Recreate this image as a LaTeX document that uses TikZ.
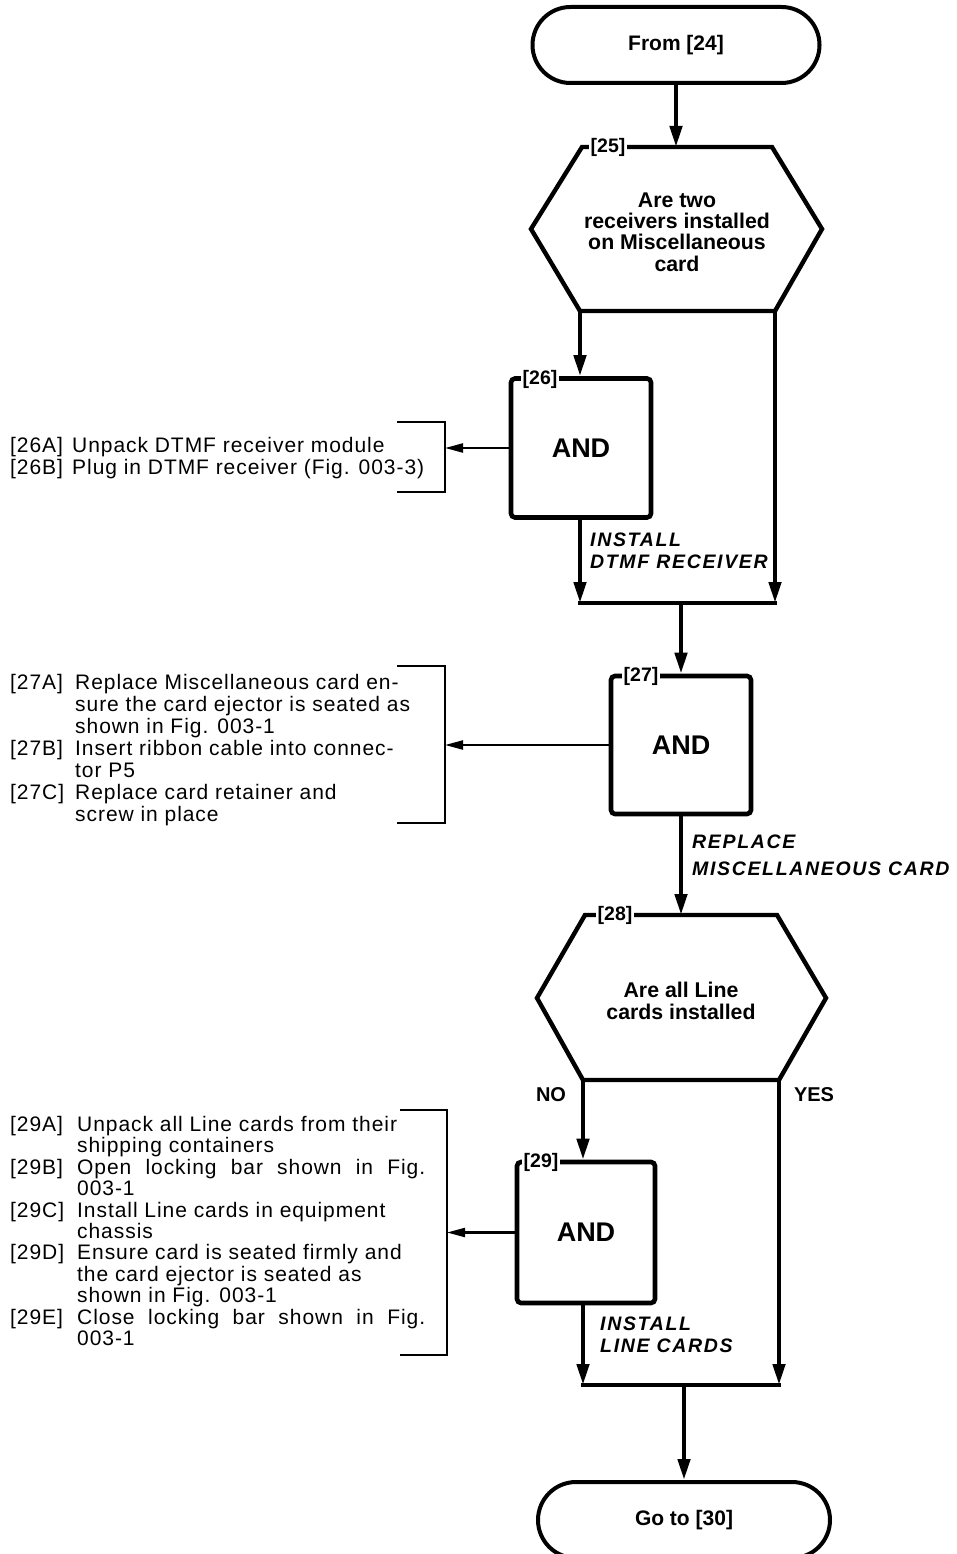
\documentclass[tikz,border=0pt]{standalone}
\usepackage{fontspec}
\setmainfont{Liberation Sans}
\newfontfamily\spacedfont[LetterSpace=4.5]{Liberation Sans}
\newfontfamily\capsfont[LetterSpace=8.5]{Liberation Sans}
\usetikzlibrary{arrows.meta,shapes.misc}
\begin{document}
\begin{tikzpicture}[x=1pt,y=-1pt,
  flow/.style={line width=4.4pt,line cap=rect},
  flowarrow/.style={line width=4.4pt,-{Triangle[length=21pt,width=12pt]}},
  thinarrow/.style={line width=2.2pt,-{Triangle[length=18pt,width=9pt]}},
  bracketline/.style={line width=2.6pt},
  hexline/.style={line width=4.4pt,line join=miter},
  terminal/.style={rounded rectangle,draw,line width=4pt,minimum width=287pt,minimum height=76pt,inner sep=0pt,font=\fontsize{21}{24}\selectfont\bfseries},
  andbox/.style={draw,line width=4.6pt,rounded corners=4pt,minimum width=140pt,minimum height=139pt,inner sep=0pt,font=\fontsize{27}{28}\selectfont\bfseries},
  hextext/.style={align=center,inner sep=0pt,font=\fontsize{21.3}{21.4}\selectfont\bfseries},
  steplabel/.style={fill=white,inner sep=1.5pt,font=\fontsize{19.5}{19.5}\selectfont\bfseries},
  listtext/.style={align=left,anchor=north west,inner sep=0pt},
  actlabel/.style={align=left,anchor=north west,inner sep=0pt},
  yesno/.style={inner sep=0pt,font=\fontsize{20}{20}\selectfont\bfseries}
]
\fill[white] (0,0) rectangle (956,1554);
\useasboundingbox (0,0) rectangle (956,1554);

% ---- top terminal
\node[terminal] (t24) at (676,45) {From [24]};

% ---- decision 25
\draw[hexline] (582,147) -- (772,147) -- (822,229) -- (775,311) -- (580,311) -- (531,229) -- cycle;
\coordinate (h25top) at (676,147);
\coordinate (h25bl) at (580,311);
\coordinate (h25br) at (775,311);
\node[steplabel] (l25) at (608,147) {[25]};
\node[hextext] (q25) at (677,232) {Are two\\receivers installed\\on Miscellaneous\\card};
\draw[flowarrow] (t24.south) -- (h25top);

% ---- AND 26
\node[andbox] (b26) at (581,448) {AND};
\node[steplabel] (l26) at (540,379) {[26]};
\draw[flowarrow] (h25bl) -- (h25bl |- b26.north);
\coordinate (k26) at (445,450);
\draw[bracketline] (397,422) -- (445,422) -- (445,492) -- (397,492);
\draw[thinarrow] (b26.west) -- (k26 |- b26.west);
\node[listtext,font=\spacedfont\fontsize{21}{22.3}\selectfont] (t26) at (10,437)
  {\makebox[62pt][l]{[26A]}Unpack DTMF receiver module\\
   \makebox[62pt][l]{[26B]}Plug in DTMF receiver (Fig. 003-3)};
\coordinate (j26l) at (580,603);
\coordinate (j26r) at (775,603);
\draw[flowarrow] (b26.south -| j26l) -- (j26l);
\draw[flowarrow] (h25br) -- (j26r);
\draw[flow] (j26l) -- (j26r);
\node[actlabel,font=\capsfont\fontsize{19.5}{21.7}\selectfont\bfseries\itshape] (a26) at (590,533)
  {INSTALL\\DTMF RECEIVER};

% ---- AND 27
\node[andbox,minimum height=138pt] (b27) at (681,745) {AND};
\node[steplabel] (l27) at (641,676) {[27]};
\draw[flowarrow] (b27.north |- j26l) -- (b27.north);
\coordinate (k27) at (445,749);
\draw[bracketline] (397,666) -- (445,666) -- (445,823) -- (397,823);
\draw[thinarrow] (b27.west) -- (k27 |- b27.west);
\node[listtext,font=\spacedfont\fontsize{21}{22}\selectfont] (t27) at (10,674)
  {\makebox[65pt][l]{[27A]}Replace Miscellaneous card en-\\
   \hspace*{65pt}sure the card ejector is seated as\\
   \hspace*{65pt}shown in Fig. 003-1\\
   \makebox[65pt][l]{[27B]}Insert ribbon cable into connec-\\
   \hspace*{65pt}tor P5\\
   \makebox[65pt][l]{[27C]}Replace card retainer and\\
   \hspace*{65pt}screw in place};
\node[actlabel,font=\capsfont\fontsize{19.5}{26.6}\selectfont\bfseries\itshape] (a27) at (692,834.8)
  {REPLACE\\MISCELLANEOUS CARD};

% ---- decision 28
\draw[hexline] (585,915) -- (777,915) -- (826,998) -- (779,1080) -- (583,1080) -- (537,998) -- cycle;
\coordinate (h28top) at (681,915);
\coordinate (h28bl) at (583,1080);
\coordinate (h28br) at (779,1080);
\node[steplabel] (l28) at (615,915) {[28]};
\node[hextext] (q28) at (681,1001) {Are all Line\\cards installed};
\draw[flowarrow] (b27.south) -- (h28top);
\node[yesno] (no28) at (551,1095) {NO};
\node[yesno] (yes28) at (814,1095) {YES};

% ---- AND 29
\node[andbox,minimum width=138pt,minimum height=141pt] (b29) at (586,1232.5) {AND};
\node[steplabel] (l29) at (541,1162) {[29]};
\draw[flowarrow] (h28bl) -- (h28bl |- b29.north);
\coordinate (k29) at (447,1236);
\draw[bracketline] (400,1110) -- (447,1110) -- (447,1355) -- (400,1355);
\draw[thinarrow] (b29.west) -- (k29 |- b29.west);
\node[listtext,font=\spacedfont\fontsize{21}{21.4}\selectfont] (t29) at (10,1116)
  {\makebox[67pt][l]{[29A]}Unpack all Line cards from their\\
   \hspace*{67pt}shipping containers\\
   \makebox[67pt][l]{[29B]}\makebox[348pt][s]{Open locking bar shown in Fig.}\\
   \hspace*{67pt}003-1\\
   \makebox[67pt][l]{[29C]}Install Line cards in equipment\\
   \hspace*{67pt}chassis\\
   \makebox[67pt][l]{[29D]}Ensure card is seated firmly and\\
   \hspace*{67pt}the card ejector is seated as\\
   \hspace*{67pt}shown in Fig. 003-1\\
   \makebox[67pt][l]{[29E]}\makebox[348pt][s]{Close locking bar shown in Fig.}\\
   \hspace*{67pt}003-1};
\coordinate (j29l) at (583,1385);
\coordinate (j29r) at (779,1385);
\draw[flowarrow] (b29.south -| j29l) -- (j29l);
\draw[flowarrow] (h28br) -- (j29r);
\draw[flow] (j29l) -- (j29r);
\node[actlabel,font=\capsfont\fontsize{19.5}{21.6}\selectfont\bfseries\itshape] (a29) at (600,1316.7)
  {INSTALL\\LINE CARDS};

% ---- bottom terminal
\node[terminal,minimum width=292pt] (t30) at (684,1520) {Go to [30]};
\draw[flowarrow] (t30.north |- j29l) -- (t30.north);
\end{tikzpicture}
\end{document}
